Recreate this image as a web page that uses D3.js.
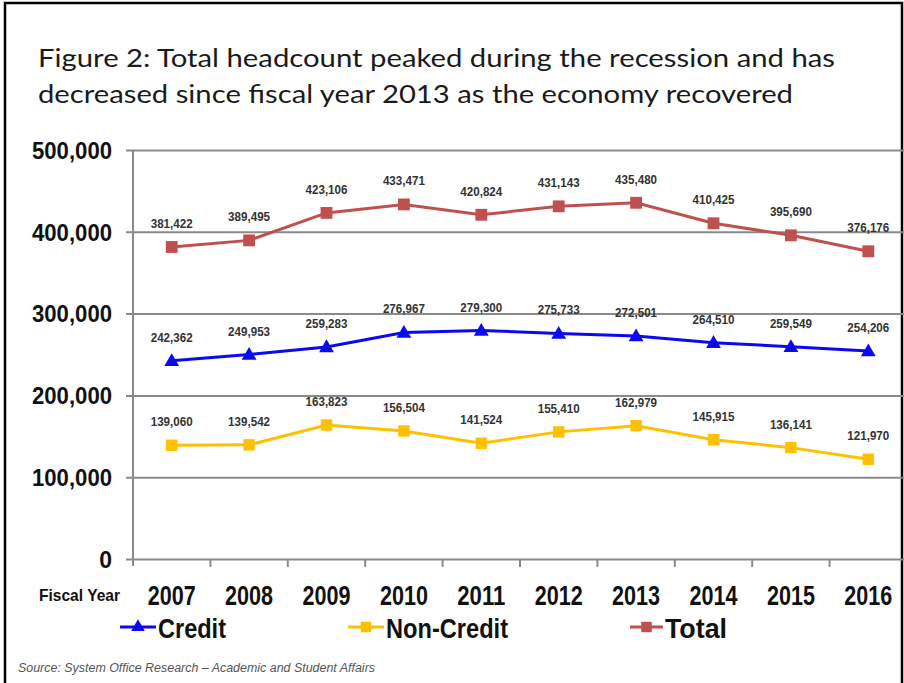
<!DOCTYPE html>
<html>
<head>
<meta charset="utf-8">
<script src="https://cdn.jsdelivr.net/npm/d3@7"></script>
<style>
  html, body { margin: 0; padding: 0; background: #fff; }
  svg { display: block; }
</style>
</head>
<body>
<svg id="chart" width="904" height="683"></svg>
<script>
// ---- Data ----
const titleLines = [
  "Figure 2: Total headcount peaked during the recession and has",
  "decreased since fiscal year 2013 as the economy recovered"
];
const years = ["2007","2008","2009","2010","2011","2012","2013","2014","2015","2016"];
const credit = [242362, 249953, 259283, 276967, 279300, 275733, 272501, 264510, 259549, 254206];
const nonCredit = [139060, 139542, 163823, 156504, 141524, 155410, 162979, 145915, 136141, 121970];
const total = [381422, 389495, 423106, 433471, 420824, 431143, 435480, 410425, 395690, 376176];
const yTicks = [0, 100000, 200000, 300000, 400000, 500000];
const seriesNames = ["Credit", "Non-Credit", "Total"];
const sourceText = "Source: System Office Research \u2013 Academic and Student Affairs";
const axisTitle = "Fiscal Year";

(function () {
// ---- Setup ----
const svg = d3.select("#chart");
const pLeft = 133, pRight = 907, pTop = 150, pBottom = 559;
const x = d3.scaleBand().domain(years).range([pLeft, pRight]).padding(0);
const y = d3.scaleLinear().domain([0, 500000]).range([pBottom, pTop]);
const fmt = d3.format(",");
const gridColor = "#8a8a8a";

// slide frame
svg.append("rect").attr("x", 5).attr("y", 3).attr("width", 897).attr("height", 720)
  .attr("fill", "none").attr("stroke", "#000").attr("stroke-width", 2.5);

// title
titleLines.forEach((t, i) => {
  svg.append("text").attr("x", 38).attr("y", 67 + i * 36)
    .attr("font-family", "Lato, 'Open Sans', sans-serif").attr("font-size", 25)
    .attr("fill", "#1a1a1a")
    .attr("textLength", i === 0 ? 797 : 755).attr("lengthAdjust", "spacingAndGlyphs")
    .text(t);
});

// gridlines + y axis
const yAxis = d3.axisLeft(y).tickValues(yTicks).tickSize(-(904 - pLeft)).tickFormat(fmt).tickPadding(21);
const gy = svg.append("g").attr("transform", `translate(${pLeft},0)`).call(yAxis);
gy.select(".domain").remove();
gy.selectAll(".tick line").attr("stroke", gridColor).attr("stroke-width", 2).attr("x1", -7);
gy.selectAll(".tick text")
  .attr("font-family", "'Liberation Sans', Arial, sans-serif").attr("font-weight", "bold")
  .attr("font-size", 23).attr("fill", "#111").attr("dy", "0.36em")
  .attr("x", -21)
  .each(function() {
    const s = d3.select(this).text();
    if (s.length > 1) d3.select(this).attr("textLength", 80).attr("lengthAdjust", "spacingAndGlyphs");
  });

// left axis line
svg.append("line").attr("x1", pLeft).attr("x2", pLeft).attr("y1", pTop).attr("y2", pBottom + 7)
  .attr("stroke", gridColor).attr("stroke-width", 2);

// x axis ticks (band boundaries)
const xAxis = d3.axisBottom(x).tickSize(0).tickFormat("");
const gx = svg.append("g").attr("transform", `translate(0,${pBottom})`).call(xAxis);
gx.select(".domain").remove();
gx.selectAll(".tick").each(function(d) {
  d3.select(this).append("line")
    .attr("x1", x.bandwidth() / 2).attr("x2", x.bandwidth() / 2)
    .attr("y1", 0).attr("y2", 8)
    .attr("stroke", gridColor).attr("stroke-width", 2);
});

// year labels
svg.append("g").selectAll("text").data(years).join("text")
  .attr("x", d => x(d) + x.bandwidth() / 2).attr("y", 605)
  .attr("text-anchor", "middle")
  .attr("font-family", "'Liberation Sans', Arial, sans-serif").attr("font-weight", "bold")
  .attr("font-size", 27).attr("fill", "#111")
  .attr("textLength", 48).attr("lengthAdjust", "spacingAndGlyphs")
  .text(d => d);

svg.append("text").attr("x", 39).attr("y", 601)
  .attr("font-family", "'Liberation Sans', Arial, sans-serif").attr("font-weight", "bold")
  .attr("font-size", 17).attr("fill", "#111")
  .attr("textLength", 81).attr("lengthAdjust", "spacingAndGlyphs")
  .text(axisTitle);

// series
const series = [
  { name: seriesNames[2], values: total, color: "#C0504D", symbol: d3.symbolSquare, size: 140 },
  { name: seriesNames[0], values: credit, color: "#0a0af0", symbol: d3.symbolTriangle, size: 95 },
  { name: seriesNames[1], values: nonCredit, color: "#FFC000", symbol: d3.symbolSquare, size: 130 }
];
const line = d3.line().x((d, i) => x(years[i]) + x.bandwidth() / 2).y(d => y(d));

series.forEach(s => {
  const g = svg.append("g");
  g.append("path").datum(s.values).attr("d", line)
    .attr("fill", "none").attr("stroke", s.color).attr("stroke-width", 3);
  g.selectAll("path.m").data(s.values).join("path").attr("class", "m")
    .attr("transform", (d, i) => `translate(${x(years[i]) + x.bandwidth() / 2},${y(d) + (s.symbol === d3.symbolTriangle ? 1 : 0)})`)
    .attr("d", d3.symbol().type(s.symbol).size(s.size))
    .attr("fill", s.color);
  g.selectAll("text").data(s.values).join("text")
    .attr("x", (d, i) => x(years[i]) + x.bandwidth() / 2)
    .attr("y", d => y(d) - 19)
    .attr("text-anchor", "middle")
    .attr("font-family", "'Liberation Sans', Arial, sans-serif").attr("font-weight", "bold")
    .attr("font-size", 12).attr("fill", "#333")
    .attr("textLength", 42).attr("lengthAdjust", "spacingAndGlyphs")
    .text(d => fmt(d));
});

// legend
const legend = [
  { name: seriesNames[0], color: "#0a0af0", symbol: d3.symbolTriangle, size: 80, lx: 120, lw: 36, tx: 158, tw: 68 },
  { name: seriesNames[1], color: "#FFC000", symbol: d3.symbolSquare, size: 110, lx: 348, lw: 36, tx: 386, tw: 122 },
  { name: seriesNames[2], color: "#C0504D", symbol: d3.symbolSquare, size: 110, lx: 630, lw: 33, tx: 665, tw: 62 }
];
const ly = 627;
legend.forEach(l => {
  svg.append("line").attr("x1", l.lx).attr("x2", l.lx + l.lw).attr("y1", ly).attr("y2", ly)
    .attr("stroke", l.color).attr("stroke-width", 3);
  svg.append("path").attr("transform", `translate(${l.lx + l.lw / 2},${ly})`)
    .attr("d", d3.symbol().type(l.symbol).size(l.size)).attr("fill", l.color);
  svg.append("text").attr("x", l.tx).attr("y", 638)
    .attr("font-family", "'Liberation Sans', Arial, sans-serif").attr("font-weight", "bold")
    .attr("font-size", 27).attr("fill", "#111")
    .attr("textLength", l.tw).attr("lengthAdjust", "spacingAndGlyphs")
    .text(l.name);
});

// source
svg.append("text").attr("x", 18).attr("y", 672)
  .attr("font-family", "'Liberation Sans', Arial, sans-serif").attr("font-style", "italic")
  .attr("font-size", 12).attr("fill", "#555")
  .attr("textLength", 357).attr("lengthAdjust", "spacingAndGlyphs")
  .text(sourceText);
})();
</script>
</body>
</html>
